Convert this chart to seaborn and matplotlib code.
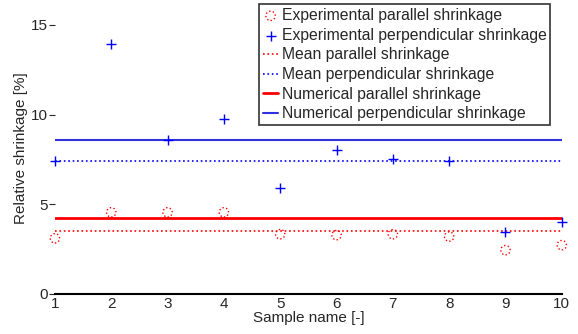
import matplotlib
matplotlib.use("Agg")
import matplotlib.pyplot as plt
import numpy as np
import seaborn as sns

samples = [1, 2, 3, 4, 5, 6, 7, 8, 9, 10]
exp_parallel = [3.1, 4.55, 4.55, 4.55, 3.33, 3.28, 3.33, 3.2, 2.44, 2.72]
exp_perpendicular = [7.44, 13.94, 8.56, 9.78, 5.89, 8.0, 7.5, 7.44, 3.44, 4.0]
mean_parallel = 3.5
mean_perpendicular = 7.44
num_parallel = 4.22
num_perpendicular = 8.56

sns.set_style("white")
plt.rcParams['font.family'] = ['Liberation Sans', 'DejaVu Sans']

fig = plt.figure(figsize=(5.78, 3.34), dpi=100)
ax = fig.add_axes([0.095, 0.12, 0.877, 0.875])

sns.scatterplot(x=samples, y=exp_parallel, ax=ax, marker='o', s=45,
                facecolor='none', edgecolor='red', linestyle=':', linewidth=1,
                label='Experimental parallel shrinkage', zorder=4, clip_on=False)
sns.scatterplot(x=samples, y=exp_perpendicular, ax=ax, marker='+', s=50,
                color='#0000ff', linewidth=1,
                label='Experimental perpendicular shrinkage', zorder=4, clip_on=False)
sns.lineplot(x=samples, y=[mean_parallel] * len(samples), ax=ax, color='red',
             linestyle=':', linewidth=1.2, label='Mean parallel shrinkage')
sns.lineplot(x=samples, y=[mean_perpendicular] * len(samples), ax=ax, color='#0000ff',
             linestyle=':', linewidth=1.2, label='Mean perpendicular shrinkage')
sns.lineplot(x=samples, y=[num_parallel] * len(samples), ax=ax, color='red',
             linewidth=2, label='Numerical parallel shrinkage')
sns.lineplot(x=samples, y=[num_perpendicular] * len(samples), ax=ax, color='#3030e0',
             linewidth=1.5, label='Numerical perpendicular shrinkage')

ax.set_xlim(1, 10)
ax.set_ylim(0, 16.3)
ax.set_xticks(samples)
ax.set_yticks([0, 5, 10, 15])
ax.tick_params(axis='x', direction='in', length=4, labelsize=11, pad=2)
ax.tick_params(axis='y', direction='out', length=4, labelsize=11, pad=1, left=True)
for s in ['top', 'right', 'left']:
    ax.spines[s].set_visible(False)
ax.spines['bottom'].set_color('black')
ax.spines['bottom'].set_linewidth(1.5)

ax.set_xlabel('Sample name [-]', fontsize=11, labelpad=0)
ax.set_ylabel('Relative shrinkage [%]', fontsize=11, labelpad=2)

leg = ax.legend(loc='upper right', bbox_to_anchor=(0.982, 1.0), fontsize=11.3,
                handlelength=1.0, handletextpad=0.2, borderpad=0.25,
                labelspacing=0.3, fancybox=False, framealpha=1, borderaxespad=0.15)
leg.get_frame().set_edgecolor('#333333')
leg.get_frame().set_linewidth(1.2)

fig.savefig('out.png', dpi=100)
